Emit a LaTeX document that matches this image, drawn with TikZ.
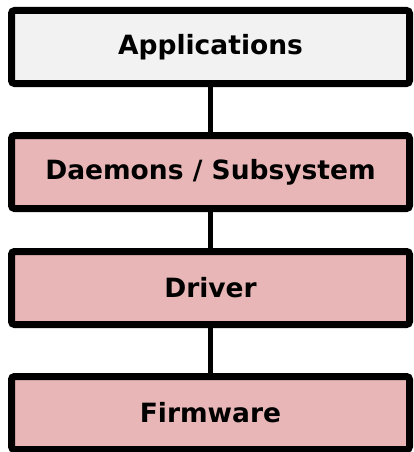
\documentclass[tikz,border=0pt]{standalone}
\usepackage{fontspec}
\setmainfont{DejaVu Sans}
\begin{document}
\begin{tikzpicture}[x=1pt,y=-1pt,
  layer/.style={draw=black, line width=7pt, rounded corners=3pt,
    minimum width=398pt, minimum height=73pt, inner sep=0pt, outer sep=0pt,
    font=\fontsize{26.5}{30}\selectfont\bfseries},
  top/.style={layer, fill=appfill},
  stack/.style={layer, fill=pinkfill},
  link/.style={draw=black, line width=5pt}]
\definecolor{appfill}{HTML}{F2F2F2}
\definecolor{pinkfill}{HTML}{E8B6B6}
\useasboundingbox (0,0) rectangle (413,452);
\node[top]   (app) at (210.5,47)    {Applications};
\node[stack] (dae) at (210.5,172)   {Daemons / Subsystem};
\node[stack] (drv) at (210.5,288)   {Driver};
\node[stack] (fw)  at (210.5,413)   {Firmware};
\draw[link] (app.south) -- (dae.north);
\draw[link] (dae.south) -- (drv.north);
\draw[link] (drv.south) -- (fw.north);
\end{tikzpicture}
\end{document}
